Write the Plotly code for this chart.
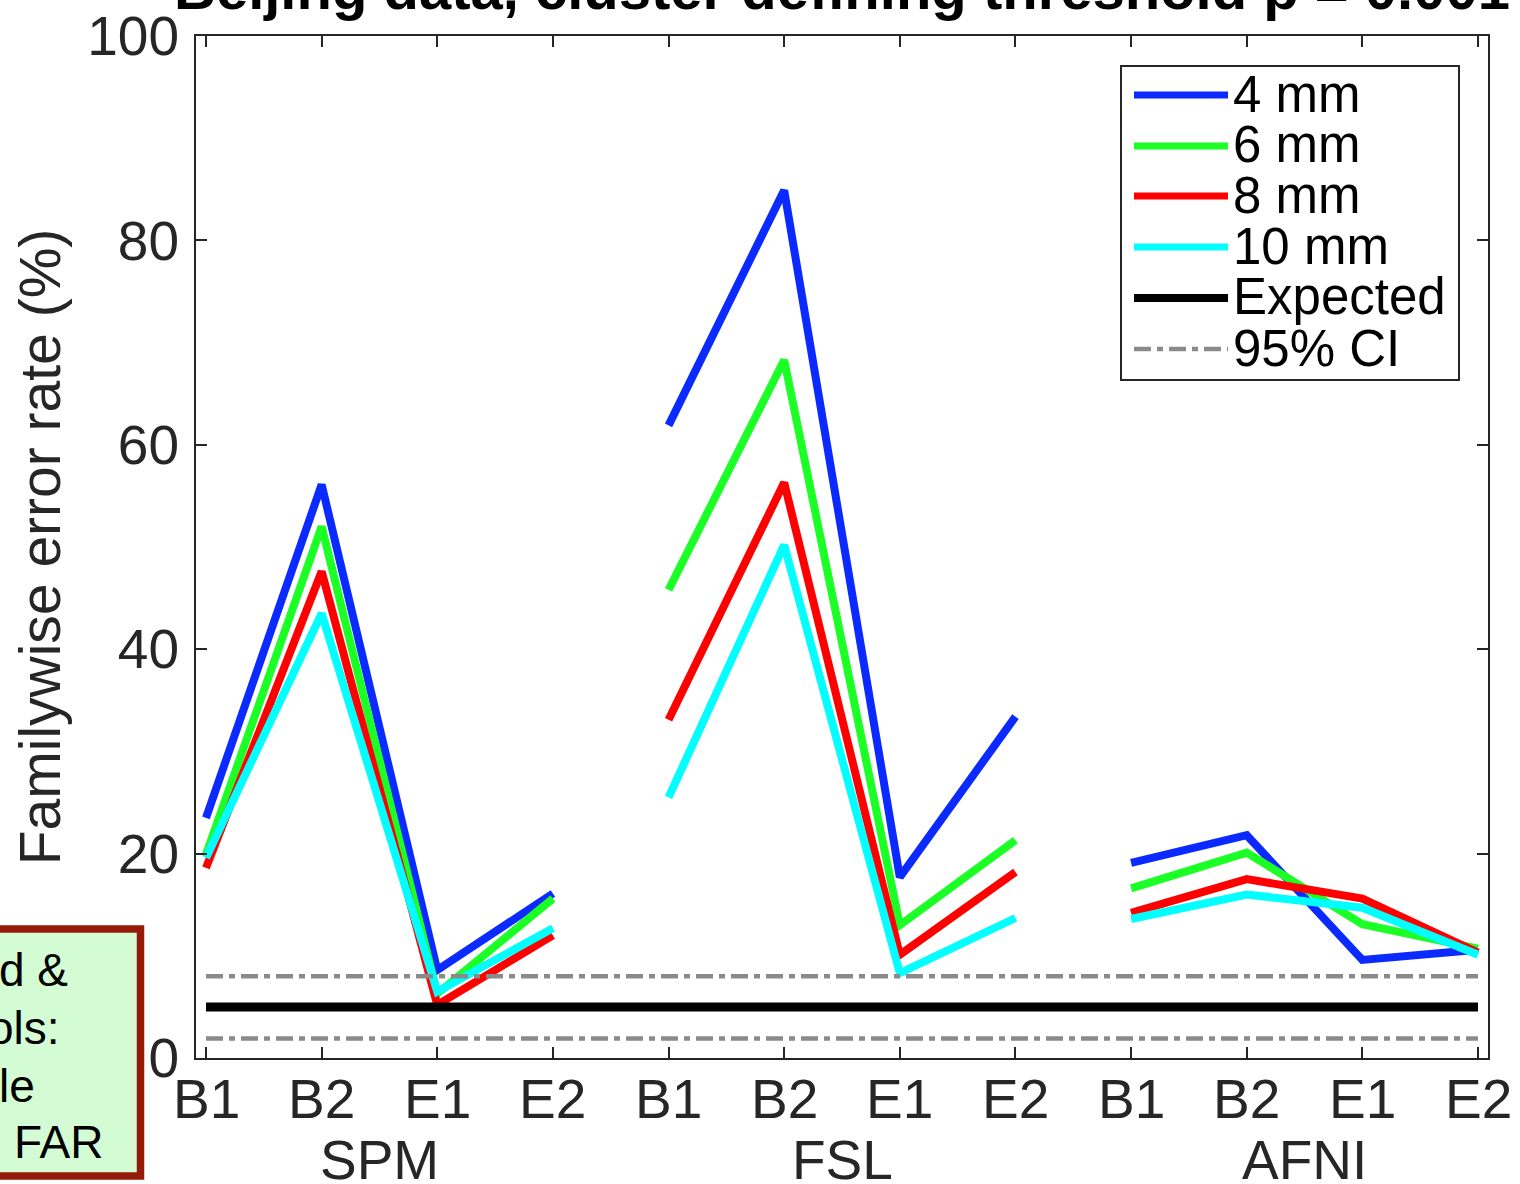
import plotly.graph_objects as go

# ---------------- data ----------------
tools = ["SPM", "FSL", "AFNI"]
designs = ["B1", "B2", "E1", "E2"]
series_names = ["4 mm", "6 mm", "8 mm", "10 mm"]
fwe_4mm = [23.5, 56.1, 8.6, 16.1, 61.9, 84.9, 17.7, 33.4, 19.1, 21.8, 9.6, 10.6]
fwe_6mm = [19.9, 52.0, 6.3, 15.6, 45.8, 68.3, 13.0, 21.3, 16.6, 20.1, 13.1, 10.7]
fwe_8mm = [18.6, 47.6, 5.2, 12.0, 33.1, 56.3, 10.1, 18.2, 14.2, 17.5, 15.6, 10.3]
fwe_10mm = [19.6, 43.5, 6.5, 12.7, 25.5, 50.2, 8.3, 13.7, 13.6, 16.0, 14.7, 10.1]
expected_rate = 5.0
ci_lower = 1.9
ci_upper = 8.0
y_ticks = [0, 20, 40, 60, 80, 100]

colors = ["#0a2aff", "#1cff26", "#ff0000", "#00ffff"]
all_series = [fwe_4mm, fwe_6mm, fwe_8mm, fwe_10mm]

W, H = 1520, 1184
L, R, T, B = 196, 1488, 36, 1058  # plot area pixels


def px(x):
    return (x - L) / (R - L)


def py(y):
    return (B - y) / (B - T)


FONT = "Liberation Sans, Arial, Helvetica, sans-serif"
AXC = "#262626"
CI_STYLE = dict(color="#8a8a8a", width=4.5, dash="17px,6px,6px,6px")

fig = go.Figure()

n = len(designs)
positions = list(range(1, len(tools) * n + 1))

for name, vals, col in zip(series_names, all_series, colors):
    xs, ys = [], []
    for t in range(len(tools)):
        xs += positions[t * n:(t + 1) * n] + [None]
        ys += vals[t * n:(t + 1) * n] + [None]
    fig.add_trace(go.Scatter(x=xs, y=ys, mode="lines", name=name,
                             line=dict(color=col, width=8), connectgaps=False,
                             showlegend=False))

x_full = [positions[0], positions[-1]]
fig.add_trace(go.Scatter(x=x_full, y=[expected_rate] * 2, mode="lines", name="Expected",
                         line=dict(color="#000000", width=9), showlegend=False))
for v in (ci_upper, ci_lower):
    fig.add_trace(go.Scatter(x=x_full, y=[v] * 2, mode="lines", name="95% CI",
                             line=CI_STYLE, showlegend=False))

shapes = []
annotations = []

# ---- custom legend (MATLAB style) ----
shapes.append(dict(type="rect", xref="paper", yref="paper",
                   x0=px(1121), x1=px(1459), y0=py(380), y1=py(66),
                   line=dict(color=AXC, width=2), fillcolor="white", layer="above"))
leg_labels = series_names + ["Expected", "95% CI"]
leg_styles = [dict(color=c, width=7) for c in colors] + [
    dict(color="#000000", width=8), CI_STYLE]
leg_y = [95, 146, 196, 247, 298, 349]
for lab, sty, yy in zip(leg_labels, leg_styles, leg_y):
    shapes.append(dict(type="line", xref="paper", yref="paper",
                       x0=px(1134), x1=px(1228), y0=py(yy), y1=py(yy), line=sty, layer="above"))
    annotations.append(dict(text=lab, xref="paper", yref="paper", x=px(1231), y=py(yy - 1),
                            xanchor="left", yanchor="middle", showarrow=False,
                            font=dict(family=FONT, size=51, color="#000000")))

# ---- x tick labels and group labels ----
for i, pos in enumerate(positions):
    annotations.append(dict(text=designs[i % n], xref="x", yref="paper", x=pos,
                            y=py(1099), xanchor="center", yanchor="middle", showarrow=False,
                            font=dict(family=FONT, size=55, color=AXC)))
for i, tname in enumerate(tools):
    annotations.append(dict(text=tname, xref="x", yref="paper", x=positions[i * n] + 1.5,
                            y=py(1160), xanchor="center", yanchor="middle", showarrow=False,
                            font=dict(family=FONT, size=55, color=AXC)))

# ---- title (cropped at top of the slide) ----
annotations.append(dict(text="<b>Beijing data, cluster defining threshold p = 0.001</b>",
                        xref="paper", yref="paper", x=0.5, y=py(-11), xanchor="center",
                        yanchor="middle", showarrow=False,
                        font=dict(family=FONT, size=58, color="#000000")))

# ---- slide text box at bottom left (cropped) ----
shapes.append(dict(type="rect", xref="paper", yref="paper",
                   x0=px(-20), x1=px(140.5), y0=py(1176), y1=py(929),
                   line=dict(color="#961a08", width=7.5), fillcolor="#d4fcd4", layer="above"))
box_lines = [("d &", 70, 970), ("ols:", 62, 1028), ("le", 37, 1086), ("FAR", 105, 1142)]
for txt, xr, yc in box_lines:
    annotations.append(dict(text=txt, xref="paper", yref="paper", x=px(xr), y=py(yc),
                            xanchor="right", yanchor="middle", showarrow=False,
                            font=dict(family=FONT, size=46, color="#000000")))

fig.update_layout(
    width=W, height=H,
    margin=dict(l=L, r=W - R, t=T, b=H - B, pad=0, autoexpand=False),
    paper_bgcolor="white", plot_bgcolor="white",
    showlegend=False,
    shapes=shapes, annotations=annotations,
    font=dict(family=FONT, color=AXC),
)
fig.update_xaxes(range=[0.9135, 12.0865], tickvals=positions, showticklabels=False,
                 automargin=False,
                 showgrid=False, zeroline=False, showline=True, linecolor=AXC, linewidth=2,
                 mirror="allticks", ticks="inside", ticklen=11, tickwidth=2, tickcolor=AXC)
fig.update_yaxes(range=[0, 100], tickvals=y_ticks, showgrid=False, zeroline=False,
                 automargin=False,
                 showline=True, linecolor=AXC, linewidth=2, mirror="allticks",
                 ticks="inside", ticklen=11, tickwidth=2, tickcolor=AXC,
                 ticklabelstandoff=4,
                 tickfont=dict(family=FONT, size=55, color=AXC),
                 title=dict(text="Familywise error rate (%)", standoff=8,
                            font=dict(family=FONT, size=57, color=AXC)))

fig.write_html("out.html", config={"displayModeBar": False},
               post_script="document.body.style.margin='0';document.body.style.overflow='hidden';")
